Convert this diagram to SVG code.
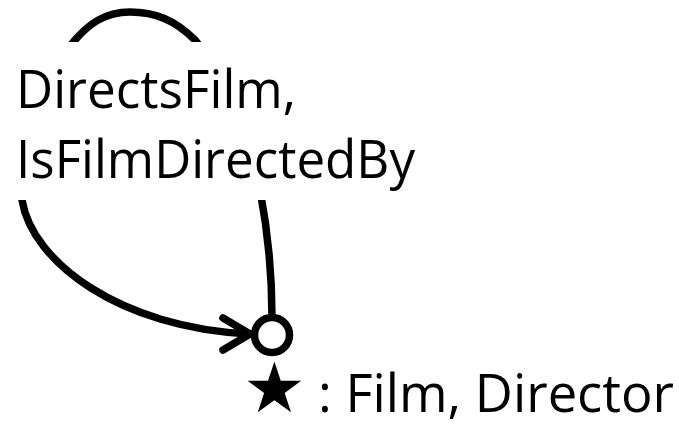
<svg xmlns="http://www.w3.org/2000/svg" width="679" height="429" viewBox="0 0 679 429">
<style>
.edge{fill:none;stroke:#000;stroke-width:7.5;stroke-linecap:round;stroke-linejoin:round}
.lbl{font-family:"Open Sans","Liberation Sans",sans-serif;font-size:53px;fill:#000}
</style>
<rect width="679" height="429" fill="#fff"/>
<g id="connectors">
<path class="edge" d="M272,317 C272,270 268,232 260,190 C248,120 220,70 195,40 C175,20 155,12 130,12 C104,12 88,25 75,40 C40,80 15,150 22,200 C32,262 120,328 250,334"/>
<polyline class="edge" points="223,318 250,334 223,350"/>
</g>
<g id="edge-label">
<rect x="0" y="42" width="430" height="158" fill="#fff"/>
<text class="lbl" x="16" y="108" textLength="280" lengthAdjust="spacingAndGlyphs">DirectsFilm,</text>
<text class="lbl" x="16" y="178" textLength="399" lengthAdjust="spacingAndGlyphs">IsFilmDirectedBy</text>
</g>
<g id="node">
<circle cx="272" cy="335" r="17.5" fill="#fff" stroke="#000" stroke-width="7.5"/>
</g>
<g id="legend">
<text class="lbl" y="412"><tspan x="243" font-family="DejaVu Sans,sans-serif" font-size="70">★</tspan><tspan x="318" textLength="356" lengthAdjust="spacingAndGlyphs">: Film, Director</tspan></text>
</g>
</svg>
